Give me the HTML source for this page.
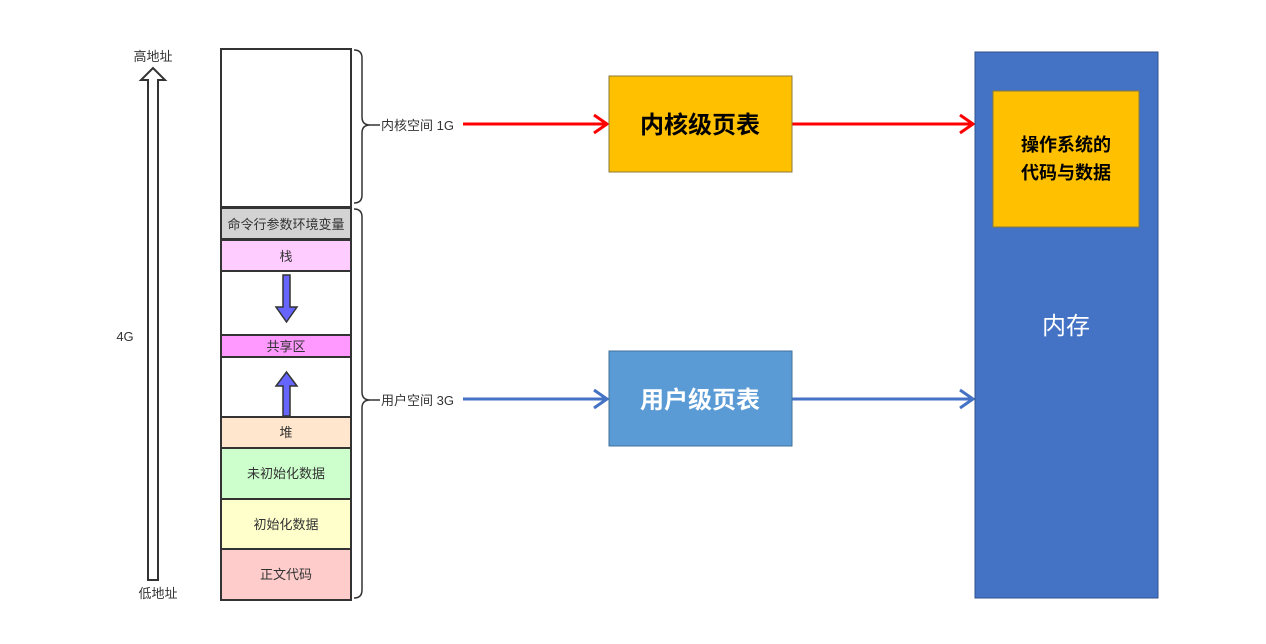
<!DOCTYPE html>
<html><head><meta charset="utf-8"><style>
body{margin:0;background:#fff;width:1266px;height:639px;overflow:hidden;font-family:"Liberation Sans","Noto Sans CJK SC",sans-serif;}
</style></head><body>
<svg width="1266" height="639" xmlns="http://www.w3.org/2000/svg" font-family="Liberation Sans, Noto Sans CJK SC, sans-serif">
<rect width="1266" height="639" fill="#fff"/>
<!-- up arrow -->
<path d="M148,580 L148,80 L141,80 L153,68 L165,80 L158,80 L158,580 Z" fill="#fff" stroke="#333" stroke-width="2"/>
<text x="153" y="61" font-size="13" text-anchor="middle" fill="#333">高地址</text>
<text x="158" y="598" font-size="13" text-anchor="middle" fill="#333">低地址</text>
<text x="125" y="341" font-size="13" text-anchor="middle" fill="#333">4G</text>
<!-- column -->
<g stroke="#333" stroke-width="2">
<rect x="221" y="49" width="130" height="158" fill="#fff"/>
<rect x="221" y="208" width="130" height="31" fill="#d3d3d3"/>
<rect x="221" y="240" width="130" height="31" fill="#ffccff"/>
<rect x="221" y="271" width="130" height="64" fill="#fff"/>
<rect x="221" y="335" width="130" height="22" fill="#ff99ff"/>
<rect x="221" y="357" width="130" height="60" fill="#fff"/>
<rect x="221" y="417" width="130" height="31" fill="#ffe6cc"/>
<rect x="221" y="448" width="130" height="51" fill="#ccffcc"/>
<rect x="221" y="499" width="130" height="50" fill="#ffffcc"/>
<rect x="221" y="549" width="130" height="51" fill="#ffcccc"/>
</g>
<g font-size="13" text-anchor="middle" fill="#333">
<text x="286" y="229">命令行参数环境变量</text>
<text x="286" y="261">栈</text>
<text x="286" y="351">共享区</text>
<text x="286" y="437">堆</text>
<text x="286" y="478">未初始化数据</text>
<text x="286" y="529">初始化数据</text>
<text x="286" y="579">正文代码</text>
</g>
<path d="M283,275 L290,275 L290,307 L297,307 L286.5,322 L276,307 L283,307 Z" fill="#6666ff" stroke="#333" stroke-width="1.5"/>
<path d="M283,416 L290,416 L290,386 L297,386 L286.5,372 L276,386 L283,386 Z" fill="#6666ff" stroke="#333" stroke-width="1.5"/>
<!-- braces -->
<g fill="none" stroke="#333" stroke-width="1.5">
<path d="M354,50 Q362,50 362,58 L362,117 Q362,125 370,125 Q362,125 362,133 L362,195 Q362,203 354,203"/>
<path d="M354,209 Q362,209 362,217 L362,392 Q362,400 370,400 Q362,400 362,408 L362,590 Q362,598 354,598"/>
<line x1="370" y1="125" x2="380" y2="125"/>
<line x1="370" y1="400" x2="380" y2="400"/>
</g>
<text x="381" y="130" font-size="13" fill="#333">内核空间 1G</text>
<text x="381" y="405" font-size="13" fill="#333">用户空间 3G</text>
<!-- arrows -->
<g fill="none" stroke-width="3">
<line x1="463" y1="124" x2="606" y2="124" stroke="#ff0000"/>
<path d="M594,115 L607,124 L594,133" stroke="#ff0000"/>
<line x1="792" y1="124" x2="972" y2="124" stroke="#ff0000"/>
<path d="M960,115 L973,124 L960,133" stroke="#ff0000"/>
<line x1="463" y1="399" x2="606" y2="399" stroke="#4472c4"/>
<path d="M594,390 L607,399 L594,408" stroke="#4472c4"/>
<line x1="792" y1="399" x2="972" y2="399" stroke="#4472c4"/>
<path d="M960,390 L973,399 L960,408" stroke="#4472c4"/>
</g>
<rect x="609" y="76" width="183" height="96" fill="#ffc000" stroke="#8a7a3a" stroke-width="1"/>
<text x="700" y="133" font-size="24" font-weight="bold" text-anchor="middle" fill="#000">内核级页表</text>
<rect x="609" y="351" width="183" height="95" fill="#5b9bd5" stroke="#41719c" stroke-width="1"/>
<text x="700" y="408" font-size="24" font-weight="bold" text-anchor="middle" fill="#fff">用户级页表</text>
<rect x="975" y="52" width="183" height="546" fill="#4472c4" stroke="#2f528f" stroke-width="1"/>
<rect x="993" y="91" width="146" height="136" fill="#ffc000" stroke="#8a7a3a" stroke-width="1"/>
<text x="1066" y="151" font-size="18" font-weight="bold" text-anchor="middle" fill="#000">操作系统的</text>
<text x="1066" y="179" font-size="18" font-weight="bold" text-anchor="middle" fill="#000">代码与数据</text>
<text x="1066" y="334" font-size="24" text-anchor="middle" fill="#fff">内存</text>
</svg>
</body></html>
